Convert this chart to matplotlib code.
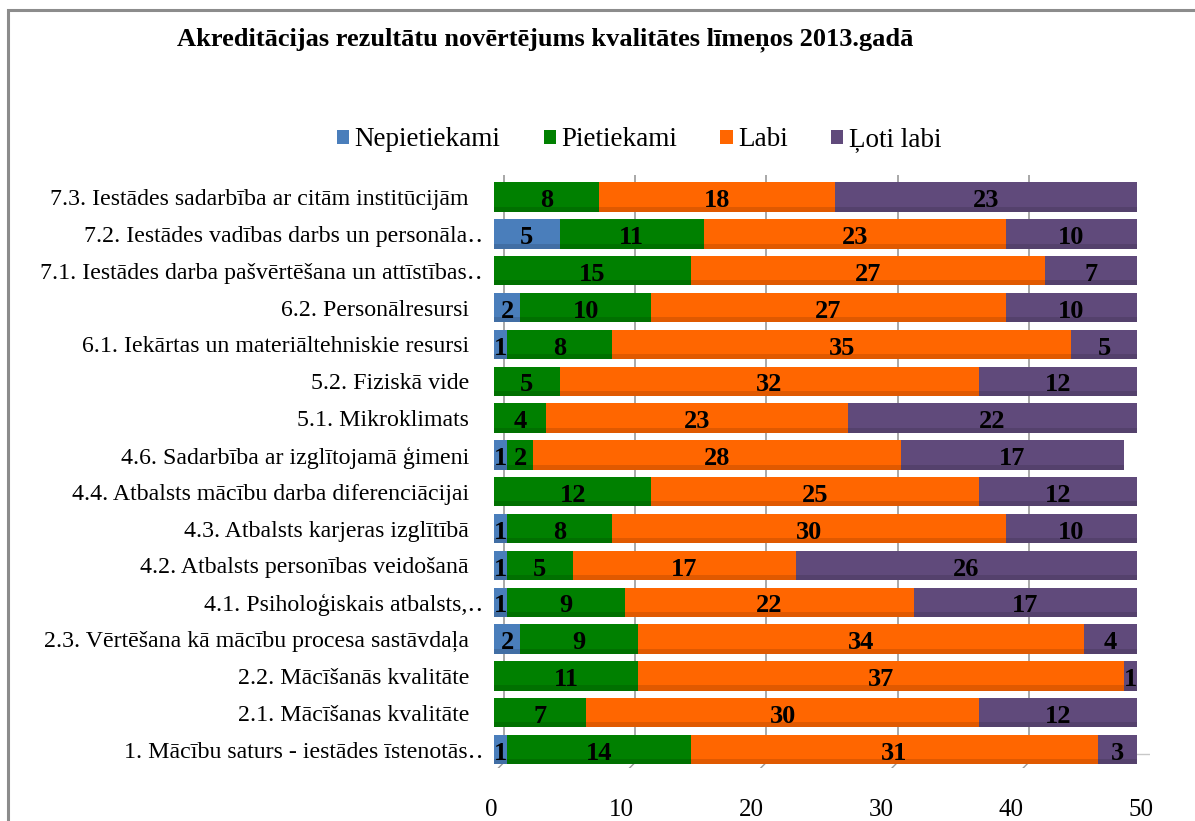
import matplotlib
matplotlib.use("Agg")
import matplotlib.pyplot as plt
import matplotlib.transforms as mtransforms
from matplotlib.patches import Patch, Rectangle
import numpy as np

plt.rcParams['font.family'] = ['Liberation Serif', 'DejaVu Serif']

categories = [
    "7.3. Iestādes sadarbība ar citām institūcijām",
    "7.2. Iestādes vadības darbs un personāla\u2025",
    "7.1. Iestādes darba pašvērtēšana un attīstības\u2025",
    "6.2. Personālresursi",
    "6.1. Iekārtas un materiāltehniskie resursi",
    "5.2. Fiziskā vide",
    "5.1. Mikroklimats",
    "4.6. Sadarbība ar izglītojamā ģimeni",
    "4.4. Atbalsts mācību darba diferenciācijai",
    "4.3. Atbalsts karjeras izglītībā",
    "4.2. Atbalsts personības veidošanā",
    "4.1. Psiholoģiskais atbalsts,\u2025",
    "2.3. Vērtēšana kā mācību procesa sastāvdaļa",
    "2.2. Mācīšanās kvalitāte",
    "2.1. Mācīšanas kvalitāte",
    "1. Mācību saturs - iestādes īstenotās\u2025",
]
series_names = ["Nepietiekami", "Pietiekami", "Labi", "Ļoti labi"]
nepietiekami = [0, 5, 0, 2, 1, 0, 0, 1, 0, 1, 1, 1, 2, 0, 0, 1]
pietiekami = [8, 11, 15, 10, 8, 5, 4, 2, 12, 8, 5, 9, 9, 11, 7, 14]
labi = [18, 23, 27, 27, 35, 32, 23, 28, 25, 30, 17, 22, 34, 37, 30, 31]
loti_labi = [23, 10, 7, 10, 5, 12, 22, 17, 12, 10, 26, 17, 4, 1, 12, 3]
colors = ["#4A7EBB", "#008000", "#FF6600", "#604A7B"]
xticks = [0, 10, 20, 30, 40, 50]

fig = plt.figure(figsize=(11.95, 8.21), dpi=100)
W, H = 1195, 821
# outer chart border
fig.patches.append(Rectangle((8 / W, -0.05), 1.2, 1 - 10 / H + 0.05, transform=fig.transFigure,
                             fill=False, edgecolor="#8c8c8c", lw=2.2))

ax = fig.add_axes([494 / W, 1 - 768 / H, (1150 - 494) / W, (768 - 175) / H])
ax.set_xlim(0, 50)
y = np.arange(len(categories))
ax.set_ylim(15.5, -0.6)

# back wall gridlines + floor (fake 3D)
back = ax.transData + mtransforms.ScaledTranslation(10 / 100, 8 / 100, fig.dpi_scale_trans)
for t in xticks:
    ax.plot([t, t], [15.35, -0.6], color="#9a9a9a", lw=1.2, transform=back, zorder=0.5)
    ax.plot([t, t + 0.75], [15.62, 15.35], color="#9a9a9a", lw=1.0, zorder=0.5)
ax.plot([0, 50], [15.62, 15.62], color="#b0b0b0", lw=2.0, zorder=0.6)
ax.plot([0, 50], [15.35, 15.35], color="#c8c8c8", lw=1.0, transform=back, zorder=0.6)

data = [nepietiekami, pietiekami, labi, loti_labi]
left = np.zeros(len(categories))
for vals, name, col in zip(data, series_names, colors):
    vals = np.array(vals, dtype=float)
    ax.barh(y, vals, left=left, height=0.8, color=col, edgecolor="none", label=name, zorder=2)
    # darker lower edge for a rounded look
    ax.barh(y + 0.33, vals, left=left, height=0.14, color="black", alpha=0.12, edgecolor="none", zorder=2.1)
    for yi, l, v in zip(y, left, vals):
        if v > 0:
            ax.text(l + v / 2, yi + 0.1, "%d" % v, ha="center", va="center",
                    fontsize=19, fontweight="bold", color="black", zorder=3)
    left = left + vals

ax.set_yticks(y)
ax.set_yticklabels(categories, fontsize=17.2)
ax.tick_params(axis="y", length=0, pad=18)
# truncated labels overhang to the right, like in the original
for lab in ax.get_yticklabels():
    if lab.get_text().endswith("\u2025"):
        lab.set_transform(lab.get_transform() + mtransforms.ScaledTranslation(14 / 100, 0, fig.dpi_scale_trans))
ax.set_xticks(xticks)
ax.set_xticklabels([str(t) for t in xticks], fontsize=18)
ax.tick_params(axis="x", length=0, pad=22)
# front-plane labels sit a bit to the left of the back wall
for t, lab in zip(xticks, ax.get_xticklabels()):
    lab.set_transform(lab.get_transform() + mtransforms.ScaledTranslation(-(3 + 0.12 * t) / 100, 0, fig.dpi_scale_trans))
for s in ax.spines.values():
    s.set_visible(False)
ax.patch.set_alpha(0)

fig.text(545 / W, 1 - 40 / H, "Akreditācijas rezultātu novērtējums kvalitātes līmeņos 2013.gadā",
         ha="center", va="center", fontsize=19, fontweight="bold")

handles = [Patch(facecolor=c, edgecolor="none") for c in colors]
fig.legend(handles, series_names, loc="center", bbox_to_anchor=(639 / W, 1 - 140 / H), ncol=4,
           frameon=False, fontsize=19.5, handlelength=0.45, handleheight=0.45, handletextpad=0.2,
           columnspacing=1.6)

fig.savefig("out.png", dpi=100)
